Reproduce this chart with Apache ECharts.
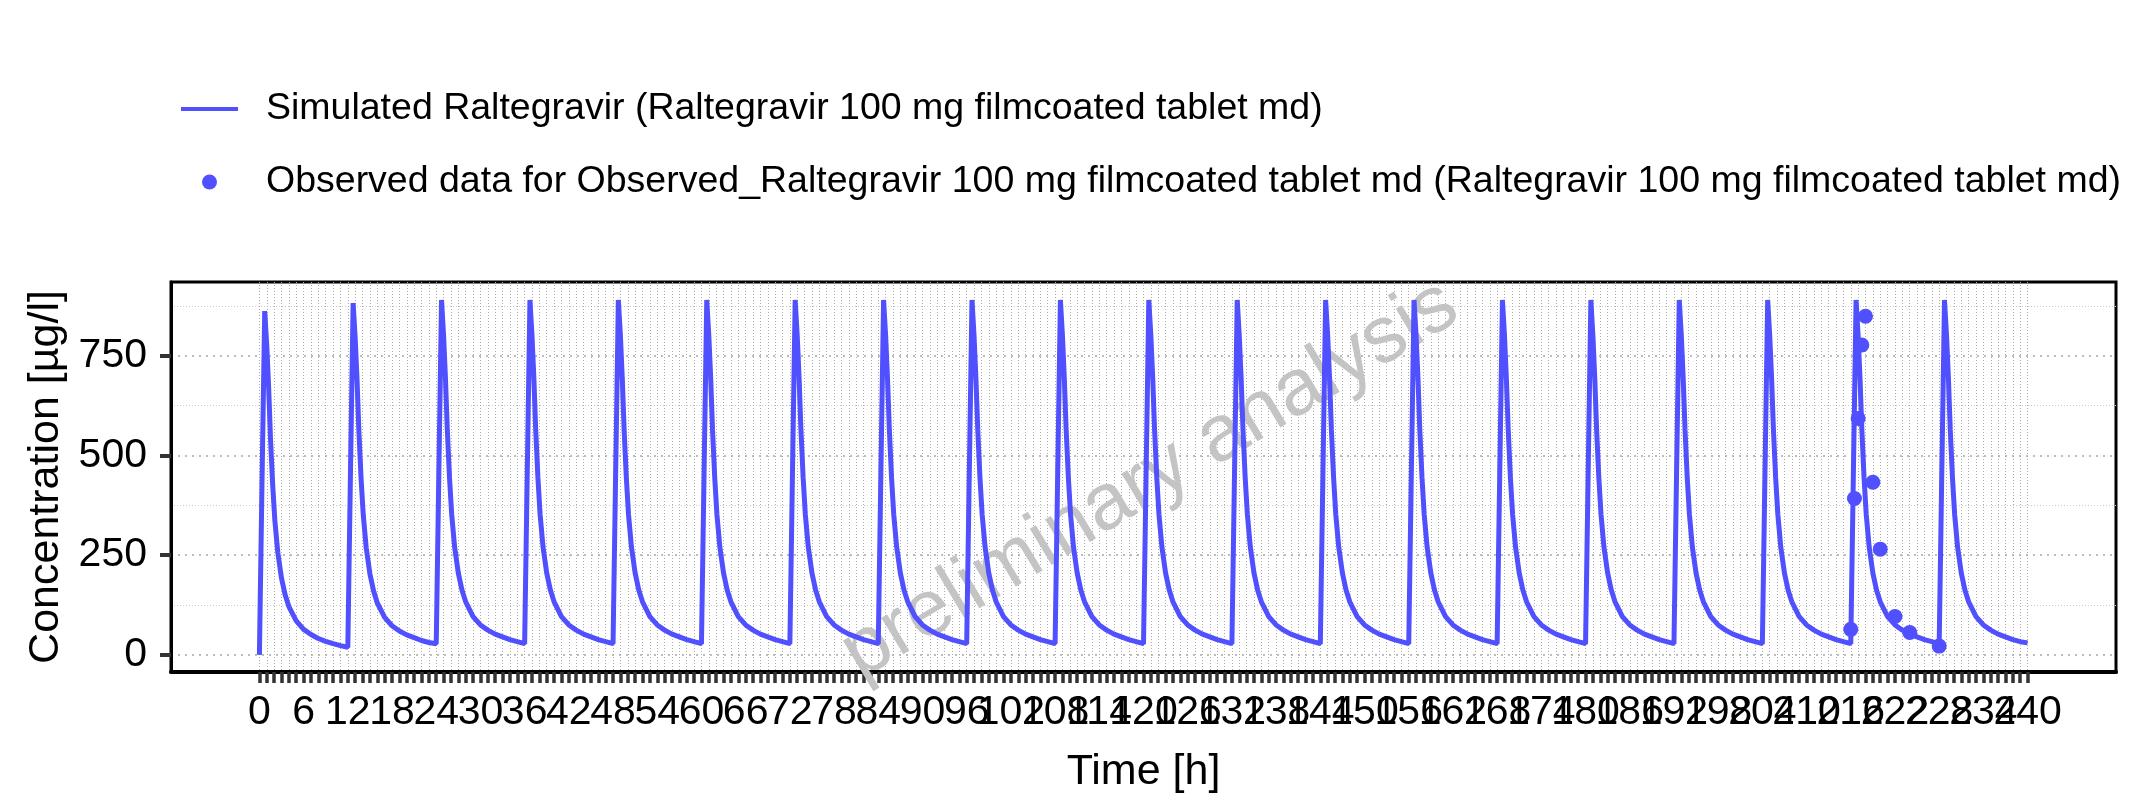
<!DOCTYPE html>
<html>
<head>
<meta charset="utf-8">
<title>Raltegravir</title>
<script src="https://cdn.jsdelivr.net/npm/echarts/dist/echarts.min.js"></script>
<style>
  html, body { margin: 0; padding: 0; background: #fff; }
  #chart { width: 2139px; height: 810px; }
</style>
</head>
<body>
<div id="chart"></div>
<script>
// dose times [h]
const doseTimes = [0, 12, 24, 36, 48, 60, 72, 84, 96, 108, 120, 132, 144, 156, 168, 180, 192, 204, 216, 228]
// hours after each dose at which the curve is read
const doseOffsets = [0, 0.35, 0.72, 1, 1.25, 1.5, 1.8, 2.1, 2.5, 3, 3.5, 4, 5, 6, 7, 8, 9, 10, 11]
// concentrations [µg/l] read at those offsets, one row per dose
const cycle1 = [0, 430, 862, 775, 672, 545, 427, 336, 256, 192, 150, 121, 85, 64, 51, 41, 34, 28, 23]
const cycle2 = [19, 445, 882, 795, 690, 562, 442, 350, 268, 203, 160, 130, 94, 73, 60, 50, 43, 36, 31]
const steadyCycle = [28, 450, 890, 800, 695, 566, 445, 352, 270, 205, 162, 133, 96, 75, 62, 52, 45, 38, 33]
const cycleProfiles = [cycle1, cycle2,
  steadyCycle, steadyCycle, steadyCycle, steadyCycle, steadyCycle, steadyCycle,
  steadyCycle, steadyCycle, steadyCycle, steadyCycle, steadyCycle, steadyCycle,
  steadyCycle, steadyCycle, steadyCycle, steadyCycle, steadyCycle, steadyCycle]
const simEnd = [240, 30]

// observed data
const obsTime = [216, 216.5, 217, 217.5, 218, 219, 220, 222, 224, 228]
const obsConc = [64, 392, 593, 777, 849, 433, 265, 96, 56, 22]

// axis ticks
const xLabelValues = [0, 6, 12, 18, 24, 30, 36, 42, 48, 54, 60, 66, 72, 78, 84, 90, 96, 102, 108, 114, 120,
  126, 132, 138, 144, 150, 156, 162, 168, 174, 180, 186, 192, 198, 204, 210, 216, 222, 228, 234, 240]
const xTickValues = []
for (let h = 0; h <= 240; h++) xTickValues.push(h)
const yTickValues = [0, 250, 500, 750]
const yMinorValues = [125, 375, 625, 875]

const simName = 'Simulated Raltegravir (Raltegravir 100 mg filmcoated tablet md)'
const obsName = 'Observed data for Observed_Raltegravir 100 mg filmcoated tablet md (Raltegravir 100 mg filmcoated tablet md)'
const blue = '#5050ff'

const simData = []
doseTimes.forEach((t0, i) => {
  doseOffsets.forEach((dt, j) => {
    simData.push([t0 + dt, cycleProfiles[i][j]])
  })
})
simData.push(simEnd)
const obsData = obsTime.map((t, i) => [t, obsConc[i]])

const chart = echarts.init(document.getElementById('chart'))
chart.setOption({
  animation: false,
  backgroundColor: '#fff',
  textStyle: { fontFamily: 'Liberation Sans' },
  legend: {
    orient: 'vertical',
    left: 176,
    top: 82,
    itemWidth: 57,
    itemHeight: 15,
    itemGap: 29,
    textStyle: { fontSize: 37.5, color: '#000', lineHeight: 44, padding: [0, 0, 0, 23] },
    data: [
      { name: simName, icon: 'path://M0,0H57V4H0Z' },
      { name: obsName, icon: 'circle' }
    ]
  },
  graphic: [{
    type: 'text',
    x: 1150,
    y: 480,
    rotation: 31 * Math.PI / 180,
    z: 1,
    style: {
      text: 'preliminary analysis',
      font: '80px "Liberation Sans"',
      fill: '#c4c4c4',
      align: 'center',
      verticalAlign: 'middle'
    }
  }],
  grid: {
    left: 171,
    right: 23,
    top: 282,
    bottom: 138,
    show: true,
    borderColor: '#000',
    borderWidth: 3
  },
  xAxis: {
    type: 'value',
    min: -12,
    max: 252,
    name: 'Time [h]',
    nameLocation: 'middle',
    nameGap: 79,
    nameTextStyle: { fontSize: 43, color: '#000' },
    axisLine: { show: true, onZero: false, lineStyle: { color: '#000', width: 4 } },
    axisTick: { show: true, length: 11, customValues: xTickValues, lineStyle: { color: '#333', width: 3.5 } },
    axisLabel: {
      // 252 is a blank placeholder so that no real label is dropped at the axis end
      customValues: xLabelValues.concat([252]),
      formatter: v => (v > 240 ? '' : String(v)),
      fontSize: 41, color: '#000', margin: 20, showMinLabel: true, showMaxLabel: true
    },
    splitLine: { show: true, lineStyle: { color: '#adadad', type: [1, 2], width: 1 } }
  },
  yAxis: [{
    type: 'value',
    min: -43,
    max: 935,
    name: 'Concentration [µg/l]',
    nameLocation: 'middle',
    nameGap: 100,
    nameTextStyle: { fontSize: 43, color: '#000' },
    axisLine: { show: true, onZero: false, lineStyle: { color: '#000', width: 3 } },
    axisTick: { show: true, length: 11, customValues: yTickValues, lineStyle: { color: '#333', width: 4 } },
    axisLabel: { customValues: yTickValues, fontSize: 41, color: '#000', margin: 24, showMinLabel: true, showMaxLabel: true },
    splitLine: { show: true, lineStyle: { color: '#a8a8a8', type: [2, 5], width: 1.5 } }
  }, {
    type: 'value',
    min: -43,
    max: 935,
    axisLine: { show: false, onZero: false },
    axisTick: { show: false, customValues: yMinorValues },
    axisLabel: { show: false },
    splitLine: { show: true, lineStyle: { color: '#cccccc', type: [1, 2], width: 1 } }
  }],
  series: [{
    name: simName,
    type: 'line',
    data: simData,
    symbol: 'none',
    color: blue,
    lineStyle: { color: blue, width: 5 },
    z: 3
  }, {
    name: obsName,
    type: 'scatter',
    data: obsData,
    symbol: 'circle',
    symbolSize: 15,
    color: blue,
    itemStyle: { color: blue, opacity: 1 },
    z: 4
  }]
})
</script>
</body>
</html>
